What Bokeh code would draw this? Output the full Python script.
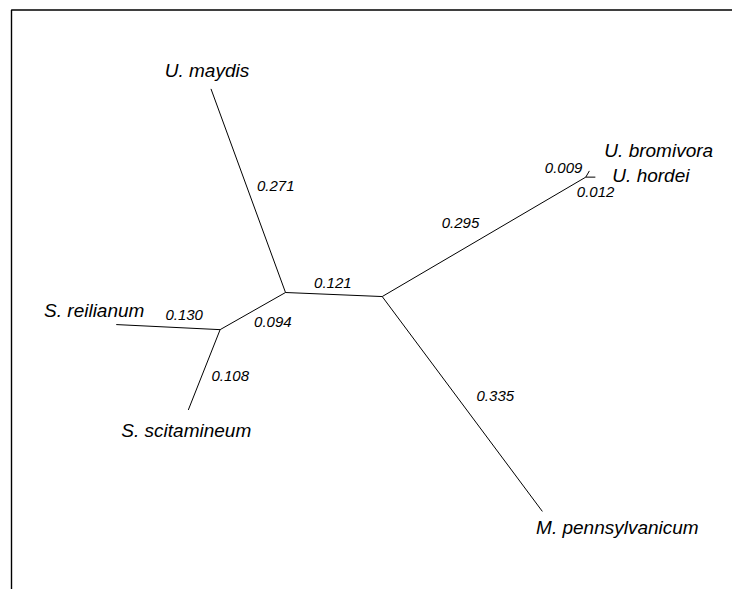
import math
from bokeh.plotting import figure
from bokeh.models import ColumnDataSource, Range1d
from bokeh.core.properties import value
from bokeh.embed import file_html
from bokeh.resources import INLINE

# ---- data: unrooted tree (edges in drawing order) ----
parents = ["A", "A", "A", "C", "C", "B", "B", "D", "D"]
children = ["U. maydis", "B", "C", "S. reilianum", "S. scitamineum",
            "D", "M. pennsylvanicum", "U. bromivora", "U. hordei"]
branch_lengths = [0.271, 0.121, 0.094, 0.130, 0.108, 0.295, 0.335, 0.009, 0.012]
branch_labels = ["0.271", "0.121", "0.094", "0.130", "0.108", "0.295", "0.335", "0.009", "0.012"]
# layout angles (degrees) of each branch
angles = [110.1, -2.4, 209.6, 177.2, 248.4, 30.4, -53.3, 60.0, 0.0]

species = ["U. maydis", "U. bromivora", "U. hordei", "S. reilianum",
           "S. scitamineum", "M. pennsylvanicum"]

# ---- layout/style (screen px offsets) ----
species_offsets = {
    "U. maydis": (-4, -18, "center"),
    "U. bromivora": (15, -20, "left"),
    "U. hordei": (17, -2, "left"),
    "S. reilianum": (-22, -14, "center"),
    "S. scitamineum": (-2, 21, "center"),
    "M. pennsylvanicum": (75, 16, "center"),
}
branch_offsets = [(27.5, -4.5), (-1, -12), (20, 11), (16, -12.5), (26, 6.5),
                  (-23.5, -13.5), (33, -7.5), (-24, -6), (5, 15)]

# ---- compute node positions ----
pos = {"A": (0.0, 0.0)}
x0s, y0s, x1s, y1s, mx, my = [], [], [], [], [], []
for par, ch, L, ang in zip(parents, children, branch_lengths, angles):
    px, py = pos[par]
    a = math.radians(ang)
    cx, cy = px + L * math.cos(a), py + L * math.sin(a)
    pos[ch] = (cx, cy)
    x0s.append(px); y0s.append(py); x1s.append(cx); y1s.append(cy)
    mx.append((px + cx) / 2); my.append((py + cy) / 2)

W, H = 732, 589
s = 800.0  # px per unit
x_start = -285 / s
y_end = 292 / s
x_end = x_start + W / s
y_start = y_end - H / s

p = figure(width=W, height=H, output_backend="svg", toolbar_location=None,
           x_range=Range1d(x_start, x_end),
           y_range=Range1d(y_start, y_end),
           min_border=0, min_border_left=0, min_border_right=0,
           min_border_top=0, min_border_bottom=0)
p.axis.visible = False
p.grid.visible = False
p.outline_line_color = None
p.background_fill_color = "white"
p.border_fill_color = "white"

# frame lines (top and left), beginning at the frame corner
fx = x_start + 11 / s
fy = y_end - 9.5 / s
p.line(x=[x_end, fx, fx], y=[fy, fy, y_start], line_color="black", line_width=1.4)

p.segment(x0=x0s, y0=y0s, x1=x1s, y1=y1s, line_color="black", line_width=1)

# species labels
sx, sy, sxo, syo, sal = [], [], [], [], []
for sp in species:
    ox, oy, al = species_offsets[sp]
    sx.append(pos[sp][0]); sy.append(pos[sp][1])
    sxo.append(ox); syo.append(oy); sal.append(al)
src_sp = ColumnDataSource(dict(x=sx, y=sy, t=species, xo=sxo, yo=syo, al=sal))
p.text(x="x", y="y", text="t", x_offset="xo", y_offset="yo", text_align="al",
       text_baseline="middle", source=src_sp, text_font=value("Liberation Sans"),
       text_font_style="italic", text_font_size="19px", text_color="black")

src_bl = ColumnDataSource(dict(x=mx, y=my, t=branch_labels,
                               xo=[o[0] for o in branch_offsets],
                               yo=[o[1] for o in branch_offsets]))
p.text(x="x", y="y", text="t", x_offset="xo", y_offset="yo", text_align="center",
       text_baseline="middle", source=src_bl, text_font=value("Liberation Sans"),
       text_font_style="italic", text_font_size="15px", text_color="black")

open("out.html", "w").write(file_html(p, INLINE))
